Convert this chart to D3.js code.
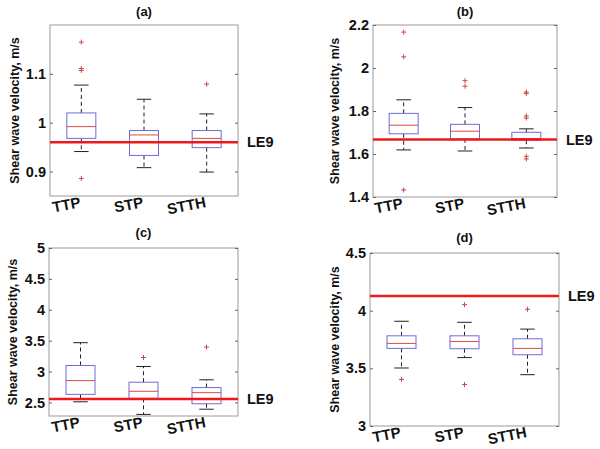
<!DOCTYPE html>
<html><head><meta charset="utf-8">
<script src="https://cdnjs.cloudflare.com/ajax/libs/d3/7.8.5/d3.min.js"></script>
<style>body{margin:0;background:#fff}svg{display:block;font-family:"Liberation Sans",Arial,sans-serif}</style>
</head><body><svg id="c" width="600" height="449"></svg>
<script>
const categories = ["TTP", "STP", "STTH"];
const panelTitles = ["(a)", "(b)", "(c)", "(d)"];
const yDomains = [[0.85, 1.2], [1.4, 2.2], [2.28, 5], [3, 4.5]];
const yTickValues = [[0.9, 1, 1.1], [1.4, 1.6, 1.8, 2, 2.2], [2.5, 3, 3.5, 4, 4.5, 5], [3, 3.5, 4, 4.5]];
const yTickLabels = [["0.9", "1", "1.1"], ["1.4", "1.6", "1.8", "2", "2.2"], ["2.5", "3", "3.5", "4", "4.5", "5"], ["3", "3.5", "4", "4.5"]];
const le9Values = [0.960, 1.667, 2.554, 4.128];
// per panel, per category: [lower whisker, Q1, median, Q3, upper whisker]
const boxStatsA = [[0.941, 0.968, 0.992, 1.020, 1.077], [0.908, 0.933, 0.975, 0.984, 1.048], [0.899, 0.949, 0.968, 0.984, 1.018]];
const boxStatsB = [[1.619, 1.694, 1.734, 1.789, 1.852], [1.614, 1.670, 1.706, 1.738, 1.816], [1.628, 1.664, 1.672, 1.701, 1.717]];
const boxStatsC = [[2.51, 2.63, 2.853, 3.098, 3.467], [2.306, 2.566, 2.68, 2.827, 3.081], [2.39, 2.478, 2.658, 2.74, 2.866]];
const boxStatsD = [[3.503, 3.673, 3.716, 3.782, 3.908], [3.593, 3.670, 3.733, 3.782, 3.899], [3.445, 3.618, 3.673, 3.756, 3.84]];
const outliersA = [[1.165, 1.111, 1.107, 0.886], [], [1.079]];
const outliersB = [[2.167, 2.052, 1.433], [1.941, 1.915], [1.888, 1.882, 1.777, 1.767, 1.589, 1.577]];
const outliersC = [[], [3.228], [3.396]];
const outliersD = [[3.404], [4.052, 3.36], [4.012]];

const boxStats = [boxStatsA, boxStatsB, boxStatsC, boxStatsD];
const outliers = [outliersA, outliersB, outliersC, outliersD];
const panels = [
  {x0: 50, x1: 238, y0: 25, y1: 196, ylabX: 15, titleY: 12},
  {x0: 373, x1: 557, y0: 25, y1: 197, ylabX: 335, titleY: 12},
  {x0: 49, x1: 238, y0: 248, y1: 416, ylabX: 13, titleY: 233},
  {x0: 370, x1: 559, y0: 253, y1: 426, ylabX: 335, titleY: 238}
];

const svg = d3.select("#c");
panels.forEach((p, i) => {
  const g = svg.append("g");
  const x = d3.scaleBand().domain(categories).range([p.x0, p.x1]).paddingInner(0).paddingOuter(0);
  const y = d3.scaleLinear().domain(yDomains[i]).range([p.y1, p.y0]);
  const bw = 29;
  // frame
  g.append("rect").attr("x", p.x0).attr("y", p.y0).attr("width", p.x1 - p.x0).attr("height", p.y1 - p.y0)
    .attr("fill", "none").attr("stroke", "#9a9a9a").attr("stroke-width", 1);
  // y axis left (ticks inward)
  const axL = d3.axisLeft(y).tickValues(yTickValues[i]).tickFormat((d, k) => yTickLabels[i][k]).tickSizeInner(-3).tickSizeOuter(0).tickPadding(4);
  const gl = g.append("g").attr("transform", `translate(${p.x0},0)`).call(axL);
  gl.select(".domain").remove();
  gl.selectAll("line").attr("stroke", "#666");
  gl.selectAll("text").attr("font-size", 14.5).attr("font-weight", "bold").attr("fill", "#111")
    .attr("font-family", "'Liberation Sans', Arial, sans-serif");
  const axR = d3.axisRight(y).tickValues(yTickValues[i]).tickFormat("").tickSizeInner(-3).tickSizeOuter(0);
  const gr = g.append("g").attr("transform", `translate(${p.x1},0)`).call(axR);
  gr.select(".domain").remove();
  gr.selectAll("line").attr("stroke", "#666");

  categories.forEach((c, k) => {
    const cx = x(c) + x.bandwidth() / 2;
    const s = boxStats[i][k];
    // whiskers
    g.append("line").attr("x1", cx).attr("x2", cx).attr("y1", y(s[3])).attr("y2", y(s[4]))
      .attr("stroke", "#222").attr("stroke-width", 1).attr("stroke-dasharray", "4,3");
    g.append("line").attr("x1", cx).attr("x2", cx).attr("y1", y(s[1])).attr("y2", y(s[0]))
      .attr("stroke", "#222").attr("stroke-width", 1).attr("stroke-dasharray", "4,3");
    // caps
    [s[0], s[4]].forEach(v => g.append("line").attr("x1", cx - bw / 4).attr("x2", cx + bw / 4)
      .attr("y1", y(v)).attr("y2", y(v)).attr("stroke", "#222").attr("stroke-width", 1));
    // box
    g.append("rect").attr("x", cx - bw / 2).attr("y", y(s[3])).attr("width", bw).attr("height", y(s[1]) - y(s[3]))
      .attr("fill", "none").attr("stroke", "#6c6cd8").attr("stroke-width", 1);
    // median
    g.append("line").attr("x1", cx - bw / 2).attr("x2", cx + bw / 2).attr("y1", y(s[2])).attr("y2", y(s[2]))
      .attr("stroke", "#e04848").attr("stroke-width", 1);
    // outliers
    outliers[i][k].forEach(v => {
      const py = y(v);
      g.append("path").attr("d", `M${cx - 2.5},${py}H${cx + 2.5}M${cx},${py - 2.5}V${py + 2.5}`)
        .attr("stroke", "#d04848").attr("stroke-width", 1);
    });
    // category label
    g.append("text").attr("transform", `translate(${cx},${p.y1 + 11}) rotate(-11)`)
      .attr("text-anchor", "end").attr("font-size", 15).attr("font-weight", "bold").attr("fill", "#111").text(c);
  });

  // LE9 line
  const ly = y(le9Values[i]);
  g.append("line").attr("x1", p.x0).attr("x2", p.x1).attr("y1", ly).attr("y2", ly)
    .attr("stroke", "#f01818").attr("stroke-width", 2.5);
  g.append("text").attr("x", p.x1 + 9).attr("y", ly + 5).attr("font-size", 14.5).attr("font-weight", "bold")
    .attr("fill", "#111").text("LE9");

  // title
  g.append("text").attr("x", (p.x0 + p.x1) / 2).attr("y", p.titleY + 4).attr("text-anchor", "middle")
    .attr("font-size", 13).attr("font-weight", "bold").attr("fill", "#111").text(panelTitles[i]);
  // y label
  g.append("text").attr("transform", `translate(${p.ylabX + 4},${(p.y0 + p.y1) / 2}) rotate(-90)`)
    .attr("text-anchor", "middle").attr("font-size", 12.5).attr("font-weight", "bold").attr("fill", "#111")
    .text("Shear wave velocity, m/s");
});
</script></body></html>
